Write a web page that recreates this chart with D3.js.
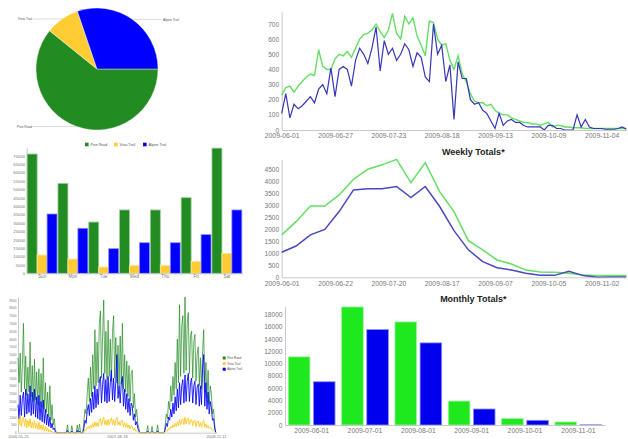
<!DOCTYPE html>
<html>
<head>
<meta charset="utf-8">
<script src="https://cdn.jsdelivr.net/npm/d3@7"></script>
<style>
  body { margin: 0; background: #fff; }
  text { font-family: Arial, "Liberation Sans", sans-serif; }
</style>
</head>
<body>
<svg id="dash" width="628" height="439"></svg>
<script>
// ---- data: trail counts by weekday (left bar chart, also feeds the pie)
const trails = ["Pine Road", "Vista Trail", "Alpine Trail"];
const trailColors = ["#228b22", "#ffcc33", "#0000ff"];
const weekdays = ["Sun", "Mon", "Tue", "Wed", "Thu", "Fri", "Sat"];
const pineByDay   = [71000, 53500, 30500, 37700, 37700, 45000, 74500];
const vistaByDay  = [10900,  8500,  3750,  4760,  4760,  7140, 11900];
const alpineByDay = [35300, 26800, 14650, 18200, 18200, 23000, 37700];

// ---- data: history 2006-05-25 .. 2008-11-10, one value every 5 days
const historyStart = "2006-05-25";
const historyStep = 5;
const pineHistory = [
  4800,3200,5100,2600,4400,7000,2800,4900,2400,4200,2600,5800,2300,4300,2000,4700,2100,3900,1800,4100,1700,3800,1600,4800,1500,3200,1300,2600,1000,3000,800,1800,500,900,200,0,
  0,0,0,0,0,0,0,0,0,500,0,0,0,450,0,0,0,0,500,0,550,0,0,0,
  800,1500,1200,2500,3500,2000,4200,2300,5000,2800,6600,3000,5800,3200,7000,7800,3500,6200,8500,3800,6500,3400,7200,3600,6000,3300,6400,7500,3500,6100,3200,5600,3000,6200,3100,7000,2800,5000,2600,4600,2300,4300,2000,3800,4000,1600,2500,1000,1500,600,300,0,
  0,0,0,0,0,0,450,0,0,0,400,0,0,0,0,500,0,0,0,0,0,0,
  500,1200,900,2000,1500,3000,2000,3600,2400,4500,2800,6000,3200,8200,3600,6800,7500,3800,8700,4000,7000,7700,3800,6200,6500,3500,5800,6300,3300,5000,5500,3000,4800,2800,5200,6600,2600,4500,2200,4000,1800,3000,2500,1200,1500,500,0
];
const alpineHistory = [
  1800,900,2400,1100,2200,2600,1000,2800,1200,2500,1300,3000,1100,2600,1200,2800,1000,2300,900,2400,800,2000,700,2100,600,1500,500,1200,400,1000,300,600,200,300,50,0,
  0,0,0,0,0,0,0,0,0,150,0,0,0,100,0,0,0,0,150,0,100,0,0,0,
  300,800,600,1400,1800,1100,2200,1300,2600,1500,3000,1600,2800,1800,3300,3600,1900,3100,3800,2000,3400,1900,3600,2000,3200,4000,2100,3500,2000,3300,5000,2200,3000,1900,3200,3600,1700,2800,1500,2500,1300,2200,1100,1900,1700,800,1200,500,700,300,100,0,
  0,0,0,0,0,0,100,0,0,0,80,0,0,0,0,120,0,0,0,0,0,0,
  200,600,400,1000,800,1500,1000,1900,1200,2300,1400,2800,1600,3200,1800,3000,3400,1900,3700,2000,3300,3800,2000,3200,3500,1900,3000,3300,1800,2900,3100,1700,3000,1800,4200,5000,1700,3200,1500,2600,1200,2000,1600,800,900,300,0
];
const vistaHistory = [
  900,500,1100,400,800,1000,400,900,300,800,400,900,300,700,300,800,250,600,200,700,200,500,150,500,100,400,100,300,50,200,50,100,0,50,0,0,
  0,0,0,0,0,0,0,0,0,0,0,0,0,0,0,0,0,0,0,0,0,0,0,0,
  50,200,150,300,400,250,500,300,600,350,700,400,650,400,800,900,450,750,1000,500,800,450,850,500,750,950,500,850,450,800,1000,500,700,450,750,800,400,650,350,600,300,500,250,450,400,150,300,100,150,50,0,0,
  0,0,0,0,0,0,0,0,0,0,0,0,0,0,0,0,0,0,0,0,0,0,
  50,150,100,250,200,400,300,500,350,600,400,700,450,850,500,800,900,500,1000,550,850,950,500,800,850,450,750,800,400,700,750,400,650,350,700,800,350,550,300,450,250,350,300,150,150,50,0
];
const historyTicks = ["2006-05-25", "2007-08-18", "2008-11-11"];

// ---- data: 2009 season, one value every 2 days from 2009-06-01
const seasonStart = "2009-06-01";
const seasonStep = 2;
const seasonGreen = [
  230,280,290,250,290,320,350,370,360,530,420,400,400,470,500,490,520,480,540,600,
  630,640,660,700,650,610,660,770,640,600,750,700,740,620,560,490,720,710,600,560,
  570,460,400,490,370,320,240,190,180,180,160,170,130,110,100,100,80,70,60,50,
  50,40,40,30,40,50,20,30,30,20,20,15,15,15,10,10,10,10,10,10,
  10,10,10,10,10
];
const seasonBlue = [
  110,240,80,170,140,160,190,220,180,270,300,240,410,220,400,420,400,290,460,540,
  500,440,540,680,390,590,500,540,460,500,570,530,420,510,480,350,320,700,500,560,
  320,430,70,450,340,340,200,170,180,130,110,60,10,110,30,60,70,50,50,30,
  20,20,20,20,0,30,30,10,10,0,0,0,100,20,70,20,10,10,10,5,
  5,5,10,20,5
];
const seasonTickDates = ["2009-06-01", "2009-06-27", "2009-07-23", "2009-08-18", "2009-09-13", "2009-10-09", "2009-11-04"];

// ---- data: weekly totals
const weekStart = "2009-06-01";
const weeklyGreen = [1760,2310,2960,2960,3420,4070,4490,4670,4900,3930,4760,3560,2730,1520,1140,720,550,300,220,210,170,100,70,70,70];
const weeklyBlue  = [1040,1300,1760,1990,2730,3630,3680,3680,3770,3310,3770,2940,1940,1140,650,400,300,170,90,80,250,70,0,10,10];
const weeklyTickLabels = ["2009-06-01", "2009-06-22", "2009-07-20", "2009-08-17", "2009-09-07", "2009-10-05", "2009-11-02"];

// ---- data: monthly totals
const months = ["2009-06-01", "2009-07-01", "2009-08-01", "2009-09-01", "2009-10-01", "2009-11-01"];
const monthlyGreen = [11080, 19190, 16760, 3890, 1030, 490];
const monthlyBlue  = [7030, 15510, 13350, 2600, 760, 30];

const svg = d3.select("#dash");
const parse = d3.timeParse("%Y-%m-%d");
const fmt = d3.timeFormat("%Y-%m-%d");
const plain = d3.format("d");
const light = c => d3.interpolateRgb(c, "#fff")(0.55);

function styleAxis(g, size, color, line) {
  g.select(".domain").attr("stroke", line || "#bbb").attr("stroke-width", 0.8);
  g.selectAll("text").style("font-size", size + "px").attr("fill", color);
}

// ================= pie =================
const pieData = [d3.sum(pineByDay), d3.sum(vistaByDay), d3.sum(alpineByDay)];
const pieR = 61;
const pieG = svg.append("g").attr("transform", "translate(97,69)");
const arcs = d3.pie().sort(null)
  .startAngle(Math.PI / 2)
  .endAngle(Math.PI * 2.5)(pieData);
const arc = d3.arc().innerRadius(0).outerRadius(pieR);

pieG.selectAll("path")
  .data(arcs)
  .join("path")
  .attr("d", arc)
  .attr("fill", (d, i) => trailColors[i])
  .attr("stroke", "#fff")
  .attr("stroke-width", 0.4);

arcs.forEach((d, i) => {
  const a = (d.startAngle + d.endAngle) / 2;
  const px = pieR * Math.sin(a), py = -pieR * Math.cos(a);
  const right = px > 0;
  const lx = right ? 65 : -64;
  pieG.append("line")
    .attr("x1", px).attr("y1", py).attr("x2", lx).attr("y2", py)
    .attr("stroke", "#ccc").attr("stroke-width", 0.7);
  pieG.append("text")
    .attr("x", right ? lx + 1 : lx - 1)
    .attr("y", py)
    .attr("dy", "0.35em")
    .attr("text-anchor", right ? "start" : "end")
    .style("font-size", "3.2px")
    .attr("fill", "#555")
    .text(trails[i]);
});

// shared legend between pie and bar chart
const legendX = [85, 114, 143];
const legend = svg.append("g").attr("transform", "translate(0,144.5)");
trails.forEach((t, i) => {
  legend.append("rect").attr("x", legendX[i]).attr("y", -1.8).attr("width", 3.6).attr("height", 3.6).attr("fill", trailColors[i]);
  legend.append("text").attr("x", legendX[i] + 5.5).attr("y", 0).attr("dy", "0.35em")
    .style("font-size", "3.6px").attr("fill", "#555").text(t);
});

// ================= bars by weekday =================
const barY = d3.scaleLinear().domain([0, 75000]).range([273.3, 147.3]);
const barX = d3.scaleBand().domain(weekdays).range([26.7, 242.3]).paddingInner(0.03).paddingOuter(0.015);
const barSub = d3.scaleBand().domain(trails).range([0, barX.bandwidth()]);
const byDay = [pineByDay, vistaByDay, alpineByDay];

svg.append("g")
  .attr("transform", "translate(26.7,0)")
  .call(d3.axisLeft(barY).tickValues(d3.range(0, 70001, 5000)).tickFormat(plain).tickSize(0).tickPadding(1.5))
  .call(g => styleAxis(g, 4.3, "#777"));

const dayGroups = svg.append("g")
  .selectAll("g")
  .data(weekdays)
  .join("g")
  .attr("transform", d => `translate(${barX(d)},0)`);

dayGroups.selectAll("rect")
  .data((d, di) => trails.map((t, ti) => ({ trail: t, i: ti, value: byDay[ti][di] })))
  .join("rect")
  .attr("x", d => barSub(d.trail))
  .attr("y", d => barY(d.value))
  .attr("width", barSub.bandwidth())
  .attr("height", d => barY(0) - barY(d.value))
  .attr("fill", d => trailColors[d.i])
  .attr("stroke", d => light(trailColors[d.i]))
  .attr("stroke-width", 0.8);

svg.append("g")
  .attr("transform", "translate(0,273.3)")
  .call(d3.axisBottom(barX).tickSize(0).tickPadding(1.5).tickSizeOuter(0))
  .call(g => styleAxis(g, 4.6, "#777"));

// ================= history lines =================
const histX = d3.scaleTime().domain([parse("2006-05-25"), parse("2008-11-11")]).range([18, 216]);
const histY = d3.scaleLinear().domain([0, 8700]).range([432.7, 296.9]);
const histDate = i => d3.timeDay.offset(parse(historyStart), i * historyStep);

svg.append("g")
  .attr("transform", "translate(18,0)")
  .call(d3.axisLeft(histY).tickValues(d3.range(0, 8501, 500)).tickFormat(plain).tickSize(0).tickPadding(1.5))
  .call(g => styleAxis(g, 3.2, "#777"));

const histLine = d3.line()
  .x((d, i) => histX(histDate(i)))
  .y(d => histY(d));

[
  { values: pineHistory, color: trailColors[0], opacity: 0.7 },
  { values: alpineHistory, color: trailColors[2], opacity: 0.85 },
  { values: vistaHistory, color: trailColors[1], opacity: 1 }
].forEach(s => {
  svg.append("path")
    .attr("fill", "none")
    .attr("stroke", s.color)
    .attr("stroke-opacity", s.opacity)
    .attr("stroke-width", 1)
    .attr("stroke-linejoin", "round")
    .attr("d", histLine(s.values));
});

svg.append("g")
  .attr("transform", "translate(0,432.7)")
  .call(d3.axisBottom(histX).tickValues(historyTicks.map(parse)).tickFormat(fmt).tickSize(0).tickPadding(2.4).tickSizeOuter(0))
  .call(g => styleAxis(g, 4, "#777"));

const histLegend = svg.append("g").attr("transform", "translate(222.7,358)");
trails.forEach((t, i) => {
  histLegend.append("rect").attr("x", 0).attr("y", i * 5.6 - 1.5).attr("width", 3).attr("height", 3).attr("fill", trailColors[i]);
  histLegend.append("text").attr("x", 4.5).attr("y", i * 5.6).attr("dy", "0.35em")
    .style("font-size", "3px").attr("fill", "#555").text(t);
});

// ================= 2009 daily =================
const green = "#63df63";
const blue = "#3636b6";
const seasonX = d3.scaleTime().domain([parse("2009-06-01"), parse("2009-11-16")]).range([281.7, 626.3]);
const seasonDate = i => d3.timeDay.offset(parse(seasonStart), i * seasonStep);

const dailyY = d3.scaleLinear().domain([0, 780]).range([130, 11.9]);
svg.append("g")
  .attr("transform", "translate(281.7,0)")
  .call(d3.axisLeft(dailyY).tickValues(d3.range(0, 701, 100)).tickFormat(plain).tickSize(0).tickPadding(2.5))
  .call(g => styleAxis(g, 6.6, "#777"));

const dailyLine = d3.line().x((d, i) => seasonX(seasonDate(i))).y(d => dailyY(d));
svg.append("path").attr("fill", "none").attr("stroke", green).attr("stroke-width", 1.4)
  .attr("d", dailyLine(seasonGreen));
svg.append("path").attr("fill", "none").attr("stroke", blue).attr("stroke-width", 1.2)
  .attr("d", dailyLine(seasonBlue));

svg.append("g")
  .attr("transform", "translate(0,130)")
  .call(d3.axisBottom(seasonX).tickValues(seasonTickDates.map(parse)).tickFormat(fmt).tickSize(0).tickPadding(3.5).tickSizeOuter(0))
  .call(g => styleAxis(g, 6.8, "#777"));

// ================= weekly totals =================
const weeklyY = d3.scaleLinear().domain([0, 4900]).range([277.3, 159.3]);
const weekDate = i => d3.timeWeek.offset(parse(weekStart), i);

svg.append("text")
  .attr("x", 473.3).attr("y", 155)
  .attr("text-anchor", "middle")
  .style("font-size", "9px").style("font-weight", "bold")
  .attr("fill", "#222")
  .text("Weekly Totals*");

svg.append("g")
  .attr("transform", "translate(281.7,0)")
  .call(d3.axisLeft(weeklyY).tickValues(d3.range(0, 4501, 500)).tickFormat(plain).tickSize(0).tickPadding(2.5))
  .call(g => styleAxis(g, 6.6, "#777"));

const weeklyLine = d3.line().x((d, i) => seasonX(weekDate(i))).y(d => weeklyY(d));
svg.append("path").attr("fill", "none").attr("stroke", green).attr("stroke-width", 1.5)
  .attr("d", weeklyLine(weeklyGreen));
svg.append("path").attr("fill", "none").attr("stroke", "#4848c0").attr("stroke-width", 1.5)
  .attr("d", weeklyLine(weeklyBlue));

svg.append("g")
  .attr("transform", "translate(0,277.3)")
  .call(d3.axisBottom(seasonX).tickValues(seasonTickDates.map(parse))
    .tickFormat((d, i) => weeklyTickLabels[i]).tickSize(0).tickPadding(3.5).tickSizeOuter(0))
  .call(g => styleAxis(g, 6.8, "#777"));

// ================= monthly totals =================
const monthY = d3.scaleLinear().domain([0, 19300]).range([425, 306.3]);
const monthX = d3.scaleBand().domain(months).range([285, 605]).paddingInner(0.124).paddingOuter(0.062);
const monthSub = d3.scaleBand().domain(["green", "blue"]).range([0, monthX.bandwidth()]).paddingInner(0.14);
const monthColors = { green: "#1ee81e", blue: "#0000ee" };

svg.append("text")
  .attr("x", 473.3).attr("y", 301.5)
  .attr("text-anchor", "middle")
  .style("font-size", "9px").style("font-weight", "bold")
  .attr("fill", "#222")
  .text("Monthly Totals*");

svg.append("g")
  .attr("transform", "translate(285,0)")
  .call(d3.axisLeft(monthY).tickValues(d3.range(0, 18001, 2000)).tickFormat(plain).tickSize(0).tickPadding(2.5))
  .call(g => styleAxis(g, 6.6, "#777"));

svg.append("g")
  .selectAll("g")
  .data(months)
  .join("g")
  .attr("transform", d => `translate(${monthX(d)},0)`)
  .selectAll("rect")
  .data((d, mi) => [
    { key: "green", value: monthlyGreen[mi] },
    { key: "blue", value: monthlyBlue[mi] }
  ])
  .join("rect")
  .attr("x", d => monthSub(d.key))
  .attr("y", d => monthY(d.value))
  .attr("width", monthSub.bandwidth())
  .attr("height", d => monthY(0) - monthY(d.value))
  .attr("fill", d => monthColors[d.key])
  .attr("stroke", d => light(monthColors[d.key]))
  .attr("stroke-width", 0.8);

svg.append("g")
  .attr("transform", "translate(0,425)")
  .call(d3.axisBottom(monthX).tickSize(0).tickPadding(3).tickSizeOuter(0))
  .call(g => styleAxis(g, 6.8, "#777"));
</script>
</body>
</html>
